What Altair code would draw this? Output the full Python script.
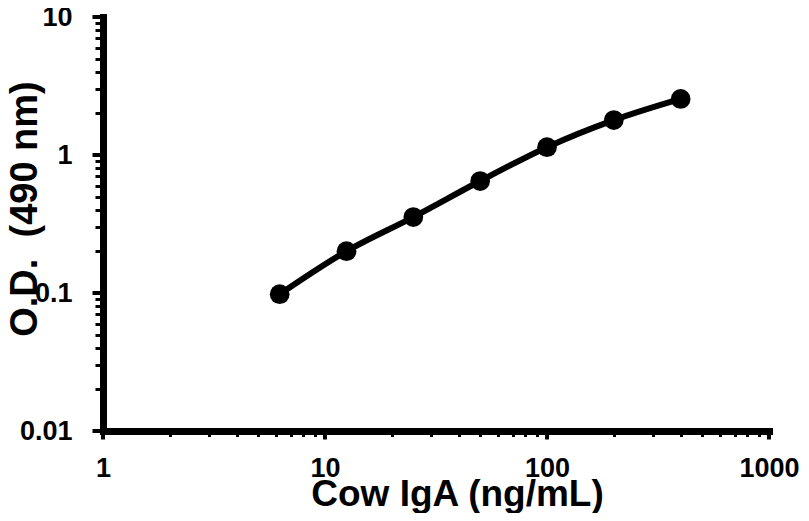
import altair as alt
import pandas as pd

conc = [6.25, 12.5, 25, 50, 100, 200, 400]
od = [0.098, 0.201, 0.355, 0.648, 1.14, 1.79, 2.55]

x_ticks = [1, 2, 3, 4, 5, 6, 7, 8, 9,
           10, 20, 30, 40, 50, 60, 70, 80, 90,
           100, 200, 300, 400, 500, 600, 700, 800, 900, 1000]
y_ticks = [0.01, 0.02, 0.03, 0.04, 0.05, 0.06, 0.07, 0.08, 0.09,
           0.1, 0.2, 0.3, 0.4, 0.5, 0.6, 0.7, 0.8, 0.9,
           1, 2, 3, 4, 5, 6, 7, 8, 9, 10]
x_major = [1, 10, 100, 1000]
y_major = [0.01, 0.1, 1, 10]

df = pd.DataFrame({"conc": conc, "od": od})

FONT = "Liberation Sans"
is_dec = "abs(log(datum.value)/LN10 - round(log(datum.value)/LN10)) < 1e-6"
lab = f"({is_dec}) ? format(datum.value, '~g') : ''"

PLOT_W = 666
PLOT_H = 414

x_axis = alt.Axis(
    values=x_ticks, labelExpr=lab, labelOverlap=False, grid=False,
    domainColor="black", domainWidth=7, domainCap="square",
    tickColor="black", tickWidth=3, tickSize=5.5,
    labelFont=FONT, labelFontSize=27, labelFontWeight="bold", labelColor="black",
    labelPadding=19, labelFlush=False, labelBound=False,
    title="Cow IgA (ng/mL)", titleFont=FONT, titleFontSize=37, titleFontWeight="bold",
    titleColor="black", titleBaseline="alphabetic", titleAlign="center",
    titleX=354, titleY=74,
)
y_axis = alt.Axis(
    values=y_ticks, labelExpr=lab, labelOverlap=False, grid=False,
    domainColor="black", domainWidth=7, domainCap="square",
    tickColor="black", tickWidth=3, tickSize=8,
    labelFont=FONT, labelFontSize=27, labelFontWeight="bold", labelColor="black",
    labelPadding=23, labelFlush=False, labelBound=False,
    title="O.D.\u00a0 (490 nm)", titleFont=FONT, titleFontSize=38, titleFontWeight="bold",
    titleColor="black", titleBaseline="alphabetic", titleAlign="center", titleAngle=270,
    titleX=-67, titleY=191.5,
)

xs = alt.Scale(type="log", domain=[1, 1000], nice=False)
ys = alt.Scale(type="log", domain=[0.01, 10], nice=False)

base = alt.Chart(df).encode(
    x=alt.X("conc:Q", scale=xs, axis=x_axis),
    y=alt.Y("od:Q", scale=ys, axis=y_axis),
)
line = base.mark_line(color="black", strokeWidth=6, interpolate="monotone")
pts = base.mark_point(filled=True, color="black", size=390, opacity=1, shape="circle")

# longer major tick marks at the decades
xmaj = alt.Chart(pd.DataFrame({"conc": x_major})).mark_rule(
    color="black", strokeWidth=4, clip=False
).encode(
    x=alt.X("conc:Q", scale=xs, axis=x_axis),
    y=alt.value(PLOT_H),
    y2=alt.value(PLOT_H + 8.5),
)
ymaj = alt.Chart(pd.DataFrame({"od": y_major})).mark_rule(
    color="black", strokeWidth=4, clip=False
).encode(
    y=alt.Y("od:Q", scale=ys, axis=y_axis),
    x=alt.value(0),
    x2=alt.value(-10.5),
)

chart = (xmaj + ymaj + line + pts).properties(
    width=PLOT_W, height=PLOT_H,
    autosize=alt.AutoSizeParams(type="none"),
    padding={"left": 95, "top": 9, "right": 32, "bottom": 82},
    background="white",
).configure_view(stroke=None)

chart.save("out.html", embed_options={"renderer": "svg", "actions": False})
